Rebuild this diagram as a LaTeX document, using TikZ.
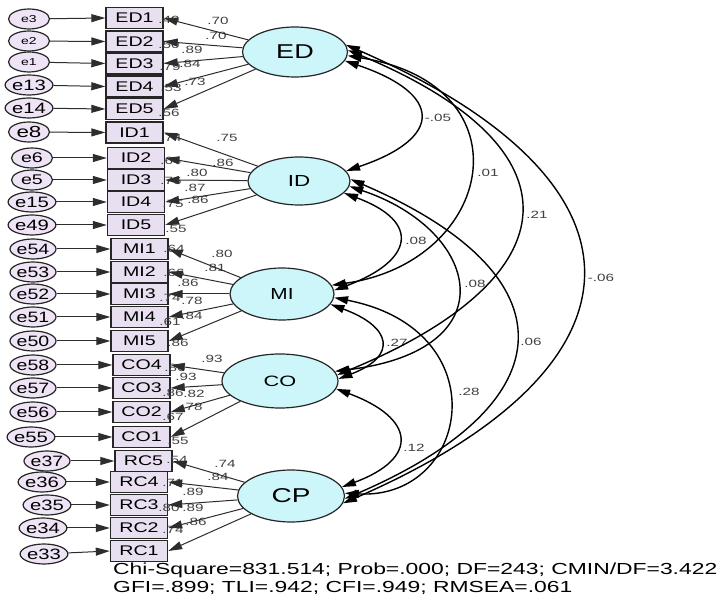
\documentclass[tikz,border=0pt]{standalone}
\usepackage{fontspec}
\setmainfont{Liberation Sans}
\usepackage{graphicx}
\usetikzlibrary{arrows.meta,shapes.geometric}
\definecolor{latfill}{RGB}{204,246,250}
\definecolor{boxfill}{RGB}{232,224,240}
\definecolor{errfill}{RGB}{238,228,246}
\definecolor{linegray}{RGB}{45,45,45}
\newcommand{\hs}[2]{\scalebox{#1}[1]{#2}}
\begin{document}
\begin{tikzpicture}[x=1pt,y=-1pt,
  obs/.style={draw=black!85, line width=1.4pt, fill=boxfill, minimum width=57pt, minimum height=21pt, inner sep=0pt, font=\fontsize{14}{16}\selectfont},
  err/.style={ellipse, draw=black!85, line width=1.2pt, fill=errfill, minimum width=41pt, minimum height=20pt, inner sep=0pt, font=\fontsize{15}{17}\selectfont},
  errs/.style={err, font=\fontsize{10}{12}\selectfont},
  lat/.style={ellipse, draw=black!85, line width=1.2pt, fill=latfill, inner sep=0pt},
  lab/.style={inner sep=0pt, font=\fontsize{10.5}{12}\selectfont, text=black!75},
  ldg/.style={line width=1pt, draw=linegray, -{Triangle[length=14pt,width=8pt]}},
  corr/.style={line width=1.4pt, draw=black, {Triangle[length=14pt,width=8pt]}-{Triangle[length=14pt,width=8pt]}},
  stat/.style={inner sep=0pt, anchor=west, font=\fontsize{16}{18}\selectfont},
]
\useasboundingbox (0,0) rectangle (721,601);
\fill[white] (0,0) rectangle (721,601);

% observed indicators
\node[obs] (ED1) at (134.5,18) {\hs{1.4}{ED1}};
\node[obs] (ED2) at (134.5,41.5) {\hs{1.4}{ED2}};
\node[obs] (ED3) at (134.5,63.5) {\hs{1.4}{ED3}};
\node[obs] (ED4) at (134.5,86.5) {\hs{1.4}{ED4}};
\node[obs] (ED5) at (134.5,109) {\hs{1.4}{ED5}};
\node[obs] (ID1) at (134.5,132.5) {\hs{1.4}{ID1}};
\node[obs] (ID2) at (136,158) {\hs{1.4}{ID2}};
\node[obs] (ID3) at (136,180) {\hs{1.4}{ID3}};
\node[obs] (ID4) at (136,202) {\hs{1.4}{ID4}};
\node[obs] (ID5) at (136,225) {\hs{1.4}{ID5}};
\node[obs] (MI1) at (139.5,249) {\hs{1.4}{MI1}};
\node[obs] (MI2) at (139.5,272) {\hs{1.4}{MI2}};
\node[obs] (MI3) at (139.5,294) {\hs{1.4}{MI3}};
\node[obs] (MI4) at (139.5,317) {\hs{1.4}{MI4}};
\node[obs] (MI5) at (139.5,341) {\hs{1.4}{MI5}};
\node[obs] (CO4) at (141.5,365) {\hs{1.4}{CO4}};
\node[obs] (CO3) at (141.5,388) {\hs{1.4}{CO3}};
\node[obs] (CO2) at (141.5,412) {\hs{1.4}{CO2}};
\node[obs] (CO1) at (141.5,437) {\hs{1.4}{CO1}};
\node[obs] (RC5) at (143.5,461) {\hs{1.4}{RC5}};
\node[obs] (RC4) at (139,482) {\hs{1.4}{RC4}};
\node[obs] (RC3) at (139,505) {\hs{1.4}{RC3}};
\node[obs] (RC2) at (139,528) {\hs{1.4}{RC2}};
\node[obs] (RC1) at (139,551) {\hs{1.4}{RC1}};

% error terms
\node[errs] (e3) at (29,19) {\hs{1.4}{e3}};
\node[errs] (e2) at (29,41) {\hs{1.4}{e2}};
\node[errs] (e1) at (29,62) {\hs{1.4}{e1}};
\node[err] (e13) at (29,85) {\hs{1.35}{e13}};
\node[err] (e14) at (29,108) {\hs{1.35}{e14}};
\node[err, font=\fontsize{16}{18}\selectfont] (e8) at (29,132) {\hs{1.4}{e8}};
\node[err, font=\fontsize{14}{16}\selectfont] (e6) at (32,158) {\hs{1.4}{e6}};
\node[err, font=\fontsize{14}{16}\selectfont] (e5) at (32,180) {\hs{1.4}{e5}};
\node[err] (e15) at (32,202) {\hs{1.35}{e15}};
\node[err] (e49) at (32,225) {\hs{1.35}{e49}};
\node[err] (e54) at (33,249) {\hs{1.3}{e54}};
\node[err] (e53) at (33,272) {\hs{1.3}{e53}};
\node[err] (e52) at (33,294) {\hs{1.3}{e52}};
\node[err] (e51) at (33,317) {\hs{1.3}{e51}};
\node[err] (e50) at (33,341) {\hs{1.3}{e50}};
\node[err] (e58) at (33,365) {\hs{1.3}{e58}};
\node[err] (e57) at (33,388) {\hs{1.3}{e57}};
\node[err] (e56) at (33,412) {\hs{1.3}{e56}};
\node[err] (e55) at (31,437) {\hs{1.35}{e55}};
\node[err] (e37) at (47,461) {\hs{1.3}{e37}};
\node[err] (e36) at (42,482) {\hs{1.35}{e36}};
\node[err] (e35) at (47,505) {\hs{1.35}{e35}};
\node[err] (e34) at (43,528) {\hs{1.35}{e34}};
\node[err] (e33) at (44,554) {\hs{1.35}{e33}};

% latent factors
\node[lat, minimum width=105pt, minimum height=50pt, font=\fontsize{20}{22}\selectfont] (ED) at (295,52) {\hs{1.35}{ED}};
\node[lat, minimum width=102pt, minimum height=48pt, font=\fontsize{16}{18}\selectfont] (ID) at (299,181) {\hs{1.4}{ID}};
\node[lat, minimum width=104pt, minimum height=52pt, font=\fontsize{16}{18}\selectfont] (MI) at (282,294) {\hs{1.3}{MI}};
\node[lat, minimum width=116pt, minimum height=54pt, font=\fontsize{15}{17}\selectfont] (CO) at (280,381) {\hs{1.45}{CO}};
\node[lat, minimum width=107pt, minimum height=52pt, font=\fontsize{20}{22}\selectfont] (CP) at (291,496) {\hs{1.4}{CP}};

% estimates: ED
\node[lab] (l1) at (218,21) {\hs{1.45}{.70}};
\node[lab] (l2) at (216,36) {\hs{1.45}{.70}};
\node[lab] (l3) at (192,50) {\hs{1.45}{.89}};
\node[lab] (l4) at (190,64) {\hs{1.45}{.84}};
\node[lab] (l5) at (195,82) {\hs{1.45}{.73}};
\node[lab] (r1) at (169,20) {\hs{1.45}{.49}};
\node[lab] (r2) at (169,45) {\hs{1.45}{.50}};
\node[lab] (r3) at (170,67) {\hs{1.45}{.79}};
\node[lab] (r4) at (171,88) {\hs{1.45}{.53}};
\node[lab] (r5) at (169,113) {\hs{1.45}{.56}};
% ID
\node[lab] (r6) at (171,138) {\hs{1.45}{.74}};
\node[lab] (l6) at (227,138) {\hs{1.45}{.75}};
\node[lab] (r7) at (171,161) {\hs{1.45}{.64}};
\node[lab] (l7) at (223,163) {\hs{1.45}{.86}};
\node[lab] (l8) at (197,173) {\hs{1.45}{.80}};
\node[lab] (r8) at (171,181) {\hs{1.45}{.76}};
\node[lab] (l9) at (195,188) {\hs{1.45}{.87}};
\node[lab] (l10) at (198,199.5) {\hs{1.45}{.86}};
\node[lab] (r9) at (173,204) {\hs{1.45}{.75}};
\node[lab] (r10) at (176,229) {\hs{1.45}{.55}};
% MI
\node[lab] (r11) at (174,249) {\hs{1.45}{.64}};
\node[lab] (l11) at (222,254) {\hs{1.45}{.80}};
\node[lab] (l12) at (215,268) {\hs{1.45}{.81}};
\node[lab] (r12) at (174,273) {\hs{1.45}{.66}};
\node[lab] (l13) at (188,283) {\hs{1.45}{.86}};
\node[lab] (r13) at (170,298) {\hs{1.45}{.74}};
\node[lab] (l14) at (192,301) {\hs{1.45}{.78}};
\node[lab] (l15) at (192,316) {\hs{1.45}{.84}};
\node[lab] (r14) at (170,322) {\hs{1.45}{.61}};
\node[lab] (r15) at (178,343) {\hs{1.45}{.86}};
% CO
\node[lab] (l16) at (212,359) {\hs{1.45}{.93}};
\node[lab] (r16) at (175,368) {\hs{1.45}{.86}};
\node[lab] (l17) at (186,377) {\hs{1.45}{.93}};
\node[lab] (r17) at (173,393) {\hs{1.45}{.86}};
\node[lab] (l18) at (194,394) {\hs{1.45}{.82}};
\node[lab] (l19) at (192,407) {\hs{1.45}{.78}};
\node[lab] (r18) at (173,417) {\hs{1.45}{.67}};
\node[lab] (r19) at (178,441) {\hs{1.45}{.55}};
% RC
\node[lab] (r20) at (177,460) {\hs{1.45}{.54}};
\node[lab] (l20) at (225,464) {\hs{1.45}{.74}};
\node[lab] (l21) at (218,477) {\hs{1.45}{.84}};
\node[lab] (r21) at (173,483) {\hs{1.45}{.71}};
\node[lab] (l22) at (193,492) {\hs{1.45}{.89}};
\node[lab] (r22) at (169,508) {\hs{1.45}{.80}};
\node[lab] (l23) at (193,508) {\hs{1.45}{.89}};
\node[lab] (l24) at (196,522) {\hs{1.45}{.86}};
\node[lab] (r23) at (173,530) {\hs{1.45}{.74}};

% correlation labels
\node[lab] (c1) at (438,118) {\hs{1.45}{-.05}};
\node[lab] (c2) at (488,173) {\hs{1.45}{.01}};
\node[lab] (c3) at (537,215) {\hs{1.45}{.21}};
\node[lab] (c4) at (601,278) {\hs{1.45}{-.06}};
\node[lab] (c5) at (416,241) {\hs{1.45}{.08}};
\node[lab] (c6) at (475,284) {\hs{1.45}{.08}};
\node[lab] (c7) at (531,342) {\hs{1.45}{.06}};
\node[lab] (c8) at (397,343) {\hs{1.45}{.27}};
\node[lab] (c9) at (469,392) {\hs{1.45}{.28}};
\node[lab] (c10) at (414,448) {\hs{1.45}{.12}};

% error paths
\foreach \e/\o in {e3/ED1,e2/ED2,e1/ED3,e13/ED4,e14/ED5,e8/ID1,e6/ID2,e5/ID3,e15/ID4,e49/ID5,e54/MI1,e53/MI2,e52/MI3,e51/MI4,e50/MI5,e58/CO4,e57/CO3,e56/CO2,e55/CO1,e37/RC5,e36/RC4,e35/RC3,e34/RC2,e33/RC1}
  \draw[ldg] (\e) -- (\o.west);

% loadings
\foreach \o in {ED1,ED2,ED3,ED4,ED5} \draw[ldg] (ED) -- (\o.east);
\foreach \o in {ID1,ID2,ID3,ID4,ID5} \draw[ldg] (ID) -- (\o.east);
\foreach \o in {MI1,MI2,MI3,MI4,MI5} \draw[ldg] (MI) -- (\o.east);
\foreach \o in {CO4,CO3,CO2,CO1} \draw[ldg] (CO) -- (\o.east);
\foreach \o in {RC5,RC4,RC3,RC2,RC1} \draw[ldg] (CP) -- (\o.east);

% correlations
\draw[corr] (ED.-10) .. controls (443,94) and (444,138) .. (ID.12);
\draw[corr] (ED.-4) .. controls (530,85) and (495,262) .. (MI.10);
\draw[corr] (ED.2) .. controls (584,148) and (574,277) .. (CO.6);
\draw[corr] (ED.8) .. controls (662,182) and (659,366) .. (CP.-8);
\draw[corr] (ID.-15) .. controls (422,222) and (413,261) .. (MI.4);
\draw[corr] (ID.-6) .. controls (480,230) and (510,350) .. (CO.10);
\draw[corr] (ID.2) .. controls (574,275) and (568,403) .. (CP.-3);
\draw[corr] (MI.-12) .. controls (392,327) and (398,356) .. (CO.2);
\draw[corr] (MI.-4) .. controls (500,330) and (470,500) .. (CP.3);
\draw[corr] (CO.-8) .. controls (415,418) and (420,458) .. (CP.10);

% fit statistics
\node[stat] (fit1) at (113,570) {\hs{1.43}{Chi-Square=831.514; Prob=.000; DF=243; CMIN/DF=3.422}};
\node[stat] (fit2) at (113,588) {\hs{1.43}{GFI=.899; TLI=.942; CFI=.949; RMSEA=.061}};
\end{tikzpicture}
\end{document}
